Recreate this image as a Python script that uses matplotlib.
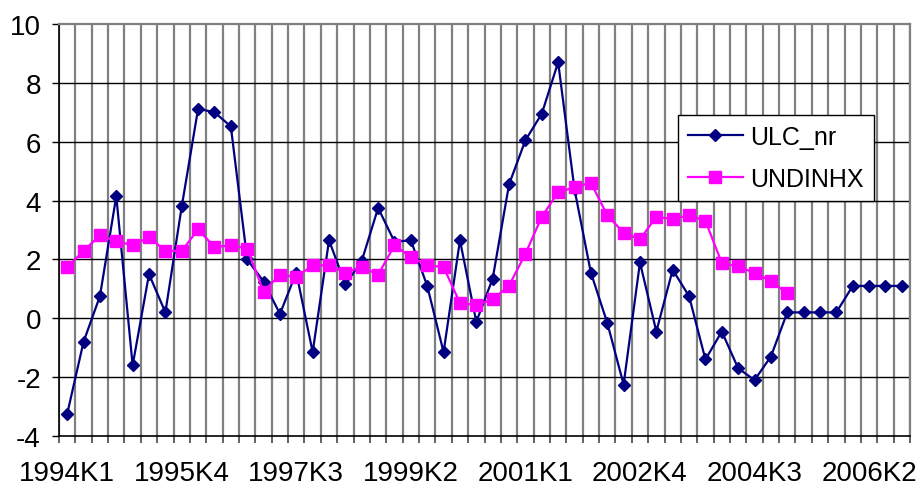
import matplotlib
matplotlib.use("Agg")
import matplotlib.pyplot as plt
import numpy as np

plt.rcParams['font.family'] = ['Liberation Sans', 'DejaVu Sans']

# Quarterly categories 1994K1 .. 2006K4
years = list(range(1994, 2007))
quarters = [f"{y}K{q}" for y in years for q in range(1, 5)]

tick_labels = ["1994K1", "1995K4", "1997K3", "1999K2",
               "2001K1", "2002K4", "2004K3", "2006K2"]

ulc_nr = [-3.25, -0.8, 0.75, 4.15, -1.6, 1.5, 0.2, 3.8,
          7.12, 7.0, 6.52, 2.0, 1.25, 0.15, 1.55, -1.15,
          2.65, 1.15, 1.95, 3.75, 2.6, 2.65, 1.1, -1.15,
          2.65, -0.12, 1.35, 4.55, 6.05, 6.95, 8.7, 4.38,
          1.55, -0.15, -2.25, 1.9, -0.45, 1.65, 0.75, -1.4,
          -0.45, -1.7, -2.1, -1.3, 0.2, 0.2, 0.2, 0.2,
          1.1, 1.1, 1.1, 1.1]

undinhx = [1.74, 2.29, 2.82, 2.62, 2.48, 2.76, 2.29, 2.29,
           3.02, 2.42, 2.48, 2.37, 0.91, 1.48, 1.40, 1.80,
           1.80, 1.55, 1.74, 1.48, 2.48, 2.08, 1.80, 1.74,
           0.52, 0.45, 0.64, 1.11, 2.19, 3.45, 4.28, 4.45,
           4.61, 3.50, 2.91, 2.68, 3.45, 3.37, 3.50, 3.31,
           1.88, 1.76, 1.54, 1.26, 0.85]

fig = plt.figure(figsize=(9.21, 4.89), dpi=100)
ax = fig.add_axes([59/921, 1-437/489, (910-59)/921, (437-25)/489])

n = len(quarters)
x_ulc = np.arange(len(ulc_nr))
x_und = np.arange(len(undinhx))

ax.plot(x_ulc, ulc_nr, color='#000080', lw=1.6, marker='D', ms=6.6,
        markeredgecolor='#000080', markerfacecolor='#000080', label='ULC_nr', zorder=3)
ax.plot(x_und, undinhx, color='#FF00FF', lw=1.6, marker='s', ms=8,
        markeredgecolor='#FF00FF', markerfacecolor='#FF00FF', label='UNDINHX', zorder=4)

ax.set_xlim(-0.5, n - 0.5)
ax.set_ylim(-4, 10)

# gridlines
for b in np.arange(-0.5, n, 1.0):
    ax.axvline(b, color='#808080', lw=1.6, zorder=1)
for yv in range(-2, 10, 2):
    ax.axhline(yv, color='black', lw=1.0, zorder=1.5)

ax.set_yticks(range(-4, 11, 2))
ax.set_yticklabels([str(v) for v in range(-4, 11, 2)])
ax.tick_params(axis='y', which='major', direction='out', length=5, width=1,
               pad=8, labelsize=20, color='black')

# x: boundaries as ticks, labels at centres
ax.set_xticks(np.arange(-0.5, n, 1.0))
ax.set_xticklabels([])
ax.tick_params(axis='x', which='major', direction='out', length=5, width=1.4,
               color='#606060')
label_pos = [quarters.index(t) for t in tick_labels]
ax.set_xticks(label_pos, minor=True)
ax.set_xticklabels(tick_labels, minor=True)
ax.tick_params(axis='x', which='minor', length=0, pad=17, labelsize=20)

for s in ['left', 'bottom']:
    ax.spines[s].set_color('black')
    ax.spines[s].set_linewidth(1.2)
for s in ['top', 'right']:
    ax.spines[s].set_color('#808080')
    ax.spines[s].set_linewidth(1.6)

leg = ax.legend(loc='upper left', bbox_to_anchor=(0.727, 0.779), fontsize=18,
                frameon=True, fancybox=False, shadow=False, framealpha=1,
                edgecolor='black', handlelength=2.2, handletextpad=0.3,
                labelspacing=0.7, borderpad=0.4, borderaxespad=0)
leg.get_frame().set_linewidth(1.0)
leg.set_zorder(10)

fig.savefig('out.png', dpi=100)
